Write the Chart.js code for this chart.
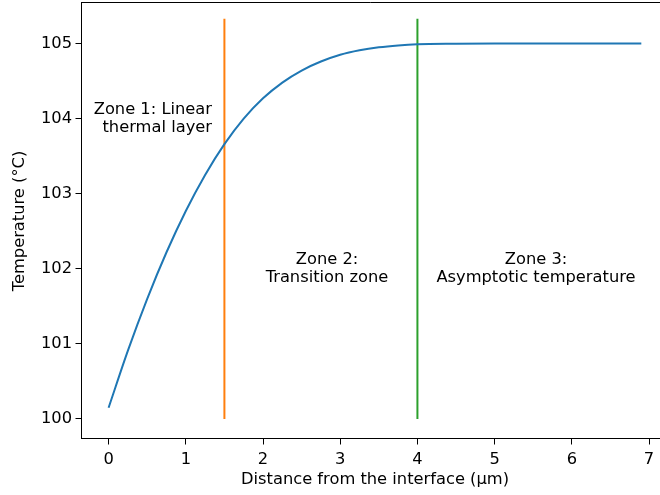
<!DOCTYPE html>
<html>
<head>
<meta charset="utf-8">
<title>Temperature profile near the interface</title>
<script src="https://cdn.jsdelivr.net/npm/chart.js@4/dist/chart.umd.min.js"></script>
<style>
  html, body { margin: 0; padding: 0; background: #ffffff; overflow: hidden; }
  #wrap { width: 660px; height: 495px; position: relative; }
</style>
</head>
<body>
<div id="wrap"><canvas id="chart" width="660" height="495"></canvas></div>
<script>
// Temperature profile (°C) against distance from the interface (µm)
const distance = [0, 0.25, 0.5, 0.75, 1.0, 1.25, 1.5, 1.75, 2.0, 2.25, 2.5, 2.75,
                  3.0, 3.25, 3.5, 3.75, 4.0, 4.5, 5.0, 5.5, 6.0, 6.5, 6.9];
const temperature = [100.15, 100.91, 101.60, 102.22, 102.77, 103.25, 103.66, 104.00,
                     104.27, 104.48, 104.64, 104.76, 104.85, 104.91, 104.95, 104.975,
                     104.99, 104.997, 105.0, 105.0, 105.0, 105.0, 105.0];

// Zone boundaries (µm) and the vertical extent of the boundary markers
const boundaryPositions = [1.5, 4.0];
const boundaryColors = ['#ff7f0e', '#2ca02c'];
const boundaryRange = [100.0, 105.33];

// Tick labels
const xTicks = [0, 1, 2, 3, 4, 5, 6, 7];
const yTicks = [100, 101, 102, 103, 104, 105];

// Zone descriptions
const zoneLabels = [
  ['Zone 1: Linear', 'thermal layer'],
  ['Zone 2:', 'Transition zone'],
  ['Zone 3:', 'Asymptotic temperature']
];

const FONT = "'DejaVu Sans', 'Liberation Sans', sans-serif";
const FONT_SIZE = 16.3;

const curve = distance.map((d, i) => ({ x: d, y: temperature[i] }));

const datasets = [{
  data: curve,
  borderColor: '#1f77b4',
  borderWidth: 2,
  pointRadius: 0,
  cubicInterpolationMode: 'monotone',
  fill: false
}];
boundaryPositions.forEach((p, i) => {
  datasets.push({
    data: [{ x: p, y: boundaryRange[0] }, { x: p, y: boundaryRange[1] }],
    borderColor: boundaryColors[i],
    borderWidth: 2,
    pointRadius: 0,
    fill: false
  });
});

// Text blocks, top spine and axis titles drawn over the chart
const decorations = {
  id: 'decorations',
  afterDatasetsDraw(chart) {
    const { ctx, chartArea, scales } = chart;
    const xs = scales.x, ys = scales.y;
    ctx.save();

    // top spine
    ctx.strokeStyle = '#000000';
    ctx.lineWidth = 1;
    ctx.beginPath();
    ctx.moveTo(chartArea.left, chartArea.top + 0.5);
    ctx.lineTo(chartArea.right, chartArea.top + 0.5);
    ctx.stroke();

    ctx.fillStyle = '#000000';
    ctx.font = FONT_SIZE + 'px ' + FONT;
    ctx.textBaseline = 'middle';
    const lineGap = 18;

    const placements = [
      { x: 1.339, y: 104.0, align: 'right' },
      { x: 2.829, y: 102.0, align: 'center' },
      { x: 5.536, y: 102.0, align: 'center' }
    ];
    zoneLabels.forEach((lines, i) => {
      const p = placements[i];
      const px = xs.getPixelForValue(p.x);
      const py = ys.getPixelForValue(p.y);
      ctx.textAlign = p.align;
      const start = py - (lines.length - 1) * lineGap / 2;
      lines.forEach((t, k) => ctx.fillText(t, px, start + k * lineGap));
    });

    // axis titles
    ctx.textAlign = 'center';
    ctx.fillText('Distance from the interface (µm)', 375, 480);
    ctx.translate(20, 221);
    ctx.rotate(-Math.PI / 2);
    ctx.fillText('Temperature (°C)', 0, 0);
    ctx.restore();
  }
};

const axisCommon = {
  type: 'linear',
  grid: {
    display: true,
    drawOnChartArea: false,
    drawTicks: true,
    tickLength: 6,
    tickColor: '#000000',
    tickWidth: 1,
    color: '#000000'
  },
  border: { display: true, color: '#000000', width: 1 },
  ticks: {
    color: '#000000',
    font: { family: FONT, size: FONT_SIZE },
    maxRotation: 0,
    autoSkip: false,
    callback: v => String(v)
  }
};

new Chart(document.getElementById('chart'), {
  type: 'line',
  data: { datasets },
  plugins: [decorations],
  options: {
    responsive: false,
    animation: false,
    layout: { padding: { top: 2, right: 0, bottom: 0, left: 0 } },
    plugins: { legend: { display: false }, tooltip: { enabled: false } },
    scales: {
      x: Object.assign({}, axisCommon, {
        min: -0.351,
        max: 7.142,
        ticks: Object.assign({}, axisCommon.ticks, { padding: 5 }),
        afterBuildTicks: s => { s.ticks = xTicks.map(v => ({ value: v })); },
        afterFit: s => { s.height = 56.5; s.paddingLeft = 0; s.paddingRight = 0; }
      }),
      y: Object.assign({}, axisCommon, {
        min: 99.74,
        max: 105.553,
        ticks: Object.assign({}, axisCommon.ticks, { padding: 3.5 }),
        afterBuildTicks: s => { s.ticks = yTicks.map(v => ({ value: v })); },
        afterFit: s => { s.width = 81.5; s.paddingTop = 0; s.paddingBottom = 0; }
      })
    }
  }
});
</script>
</body>
</html>
